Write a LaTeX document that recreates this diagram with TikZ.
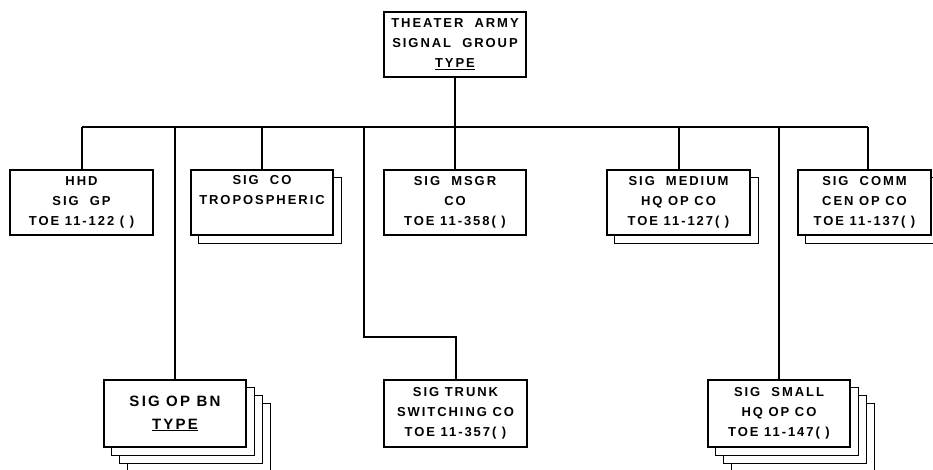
\documentclass[tikz,border=0pt]{standalone}
\usepackage{fontspec}
\setmainfont{Liberation Sans}
\newfontfamily\lblfont{Liberation Sans}[LetterSpace=15]
\usetikzlibrary{backgrounds}
\newcommand\stackshadow[2]{%
  \foreach \k in {#2,...,1}{%
    \draw[shadowbox] ([shift={(8*\k,8*\k)}]#1.south west) rectangle ([shift={(8*\k,8*\k)}]#1.north east);}}
\begin{document}
\begin{tikzpicture}[x=1pt,y=-1pt,
  conn/.style={line width=2pt},
  unit/.style={draw,line width=1.3pt,fill=white,minimum width=142pt,minimum height=65pt,
    inner sep=0pt,align=center,font=\lblfont\bfseries\fontsize{13}{20}\selectfont},
  bigunit/.style={unit,minimum height=67pt,font=\lblfont\bfseries\fontsize{15}{23}\selectfont},
  shadowbox/.style={draw,line width=1.3pt,fill=white}]
\useasboundingbox (0,0) rectangle (933,469);
% nodes
\node[unit] (top) at (455,44.5) {THEATER\ \ ARMY\\SIGNAL\ \ GROUP\\\underline{TYPE}};
\node[unit,minimum width=143pt] (hhd) at (81.5,202.5) {HHD\\SIG\ \ GP\\TOE 11-122 ( )};
\node[unit] (tropo) at (262,202.5) {SIG\ \ CO\\TROPOSPHERIC\\\strut};
\node[unit] (msgr) at (455,202.5) {SIG\ \ MSGR\\CO\\TOE 11-358( )};
\node[unit,minimum width=143pt] (medium) at (678.5,202.5) {SIG\ \ MEDIUM\\HQ OP CO\\TOE 11-127( )};
\node[unit,minimum width=133pt] (comm) at (864.5,202.5) {SIG\ \ COMM\\CEN OP CO\\TOE 11-137( )};
\node[bigunit] (bn) at (175,413.5) {SIG OP BN\\\underline{TYPE}};
\node[unit,minimum width=143pt,minimum height=67pt] (trunk) at (455.5,413.5) {SIG TRUNK\\SWITCHING CO\\TOE 11-357( )};
\node[unit,minimum height=67pt] (small) at (779,413.5) {SIG\ \ SMALL\\HQ OP CO\\TOE 11-147( )};
% stacked copies
\begin{scope}[on background layer]
  \stackshadow{tropo}{1}
  \stackshadow{medium}{1}
  \stackshadow{comm}{1}
  \stackshadow{bn}{3}
  \stackshadow{small}{3}
\end{scope}
% connectors
\coordinate (bus) at (0,127);
\coordinate (commdrop) at (868,127);
\coordinate (trunkj) at (364,127);
\coordinate (trunkbend) at (364,337);
\draw[conn] (hhd.north |- bus) -- (commdrop);
\draw[conn] (top.south) -- (top.south |- bus);
\draw[conn] (hhd.north) -- (hhd.north |- bus);
\draw[conn] (tropo.north) -- (tropo.north |- bus);
\draw[conn] (msgr.north) -- (msgr.north |- bus);
\draw[conn] (medium.north) -- (medium.north |- bus);
\draw[conn] (commdrop) -- (commdrop |- comm.north);
\draw[conn] (bn.north) -- (bn.north |- bus);
\draw[conn] (trunkj) -- (trunkbend) -| (trunk.north);
\draw[conn] (small.north) -- (small.north |- bus);
\end{tikzpicture}
\end{document}
